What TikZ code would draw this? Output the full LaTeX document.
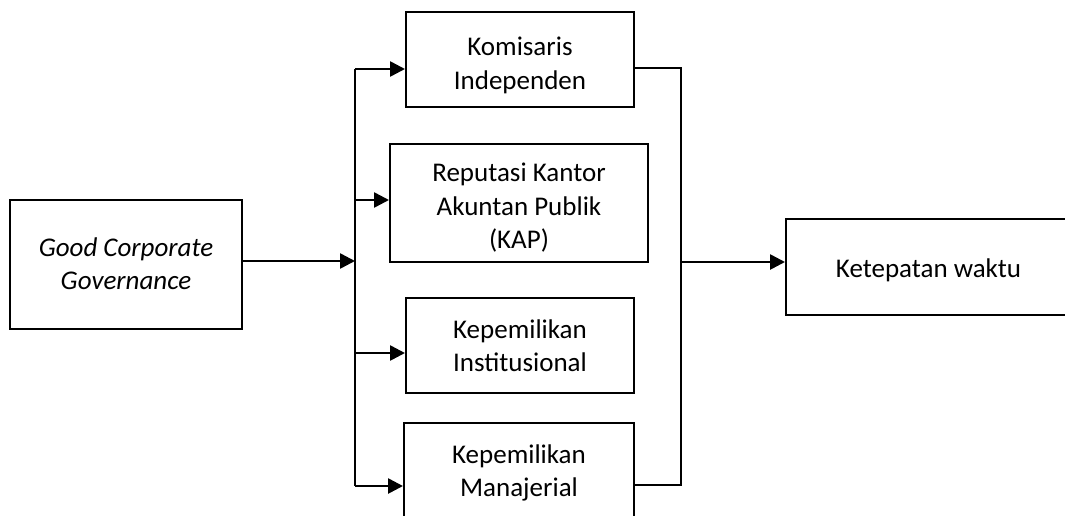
\documentclass[tikz,border=0pt]{standalone}
\usepackage{fontspec}
\setmainfont{Carlito}
\usetikzlibrary{arrows.meta}
\newcommand\lowtxt[2]{\raisebox{\dimexpr-#1-6.75pt\relax}[0pt][0pt]{\begin{tabular}{@{}c@{}}#2\end{tabular}}}
\begin{document}
\begin{tikzpicture}[x=1pt,y=-1pt,
  box/.style={draw=black,line width=2pt,align=center,inner sep=0pt,
    font=\fontsize{27}{33.5}\selectfont},
  conn/.style={line width=2.6pt},
  arr/.style={line width=2.6pt,-{Triangle[length=15pt,width=15pt]}}]
\useasboundingbox (0,0) rectangle (1065,515);
\begin{scope}
\clip (0,0) rectangle (1065,515);
\node[box,minimum width=232pt,minimum height=129pt] (gcg) at (126,264.5) {\lowtxt{1.5pt}{\itshape Good Corporate\\\itshape Governance}};
\node[box,minimum width=228pt,minimum height=95pt] (kom) at (520,59.5) {\lowtxt{6pt}{Komisaris\\Independen}};
\node[box,minimum width=258pt,minimum height=118pt] (rep) at (519,203) {\lowtxt{5pt}{Reputasi Kantor\\Akuntan Publik\\(KAP)}};
\node[box,minimum width=228pt,minimum height=95pt] (ins) at (520,345.5) {\lowtxt{2.5pt}{Kepemilikan\\Institusional}};
\node[box,minimum width=230pt,minimum height=95pt] (man) at (519,470.5) {\lowtxt{2.5pt}{Kepemilikan\\Manajerial}};
\node[box,minimum width=285pt,minimum height=96pt] (ket) at (928.5,267) {\lowtxt{3pt}{Ketepatan waktu}};
\coordinate (lt) at (355,69);
\coordinate (lr) at (355,200);
\coordinate (lg) at (355,261);
\coordinate (li) at (355,353);
\coordinate (lb) at (355,486);
\coordinate (rt) at (681,68);
\coordinate (rm) at (681,262);
\coordinate (rb) at (681,485);
\draw[conn] (lt) -- (lb);
\draw[arr] (gcg.east |- lg) -- (lg);
\draw[arr] (lt) -- (kom.west |- lt);
\draw[arr] (lr) -- (rep.west |- lr);
\draw[arr] (li) -- (ins.west |- li);
\draw[arr] (lb) -- (man.west |- lb);
\draw[conn] (kom.east |- rt) -- (rt) -- (rb) -- (man.east |- rb);
\draw[arr] (rm) -- (ket.west |- rm);
\end{scope}
\end{tikzpicture}
\end{document}
